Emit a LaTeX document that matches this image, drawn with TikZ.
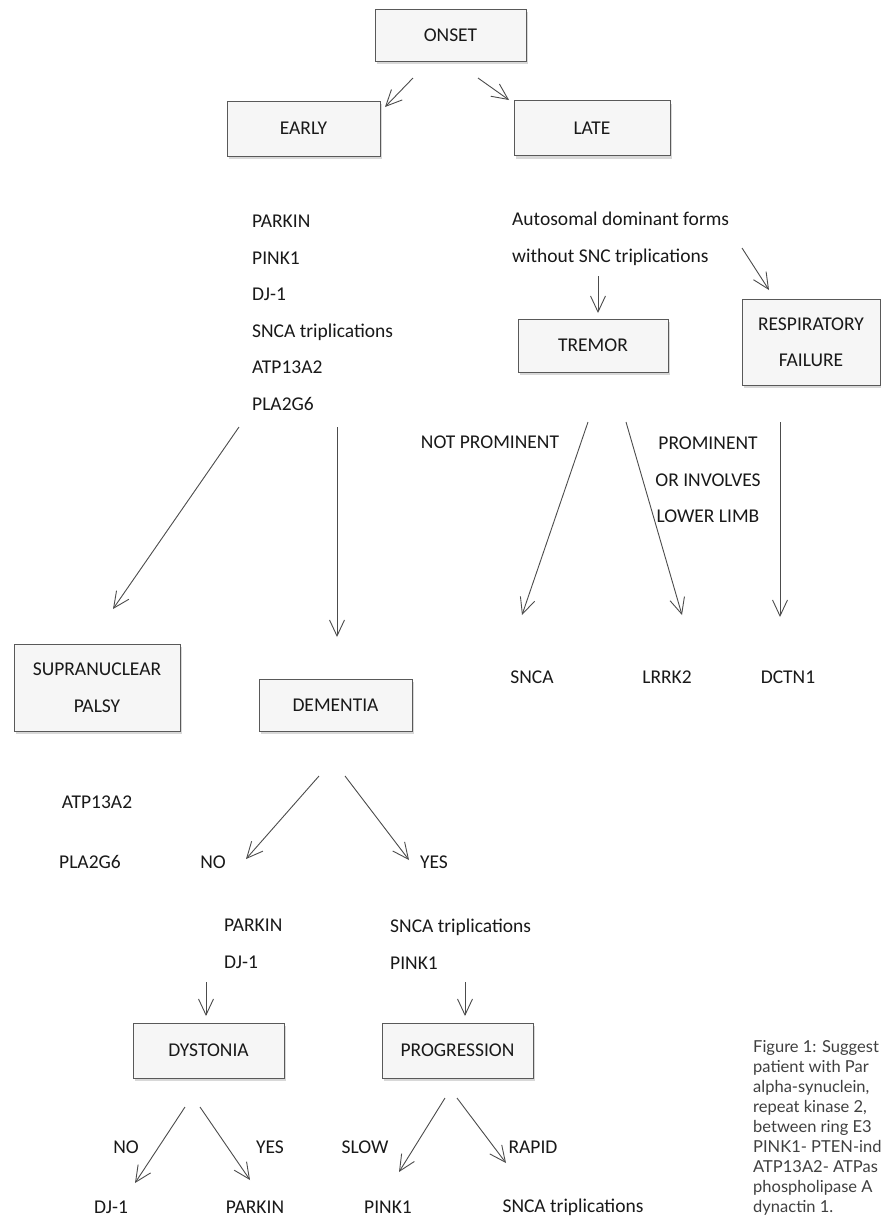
\documentclass[tikz,border=0pt]{standalone}
\usepackage{fontspec}
\setmainfont{Carlito}
\newfontfamily\capfont{Lato}
\usetikzlibrary{arrows.meta,shadows}

\begin{document}
\begin{tikzpicture}[x=1pt,y=-1pt,
    every node/.style={font=\fontsize{19.5}{36.5}\selectfont,text=black!90,inner sep=0pt},
    box/.style={draw=black!65,line width=0.9pt,fill=gray!7,align=center,
      drop shadow={shadow xshift=2pt,shadow yshift=-3pt,opacity=0.3,fill=black!50}},
    gene/.style={align=left,anchor=west},
    arr/.style={draw=black!70,line width=0.9pt,-{Straight Barb[length=16pt,width=15pt,line width=0.9pt]}}]
    \clip (0,0) rectangle (881,1219);
    \fill[white] (0,0) rectangle (881,1219);

    \node[box,minimum width=151pt,minimum height=52pt] (onset) at (450.5,35) {ONSET};
    \node[box,minimum width=153pt,minimum height=55pt] (early) at (303.5,128.5) {EARLY};
    \node[box,minimum width=156pt,minimum height=55pt] (late) at (592,128) {LATE};
    \node[box,minimum width=150pt,minimum height=53pt] (tremor) at (593,345.5) {TREMOR};
    \node[box,minimum width=138pt,minimum height=86pt] (resp) at (811,342) {RESPIRATORY\\FAILURE};
    \node[box,minimum width=166pt,minimum height=87pt] (supra) at (97,687.5) {SUPRANUCLEAR\\PALSY};
    \node[box,minimum width=153pt,minimum height=52pt] (dementia) at (335.5,705) {DEMENTIA};
    \node[box,minimum width=151pt,minimum height=55pt] (dystonia) at (208.5,1050.5) {DYSTONIA};
    \node[box,minimum width=151pt,minimum height=55pt] (progression) at (457.5,1050.5) {PROGRESSION};

    \node[gene] (earlygenes) at (252,313) {PARKIN\\PINK1\\DJ-1\\SNCA triplications\\ATP13A2\\PLA2G6};
    \node[gene] (autodom) at (512,239) {Autosomal dominant forms\\without SNC triplications};
    \node (notprom) at (490,442) {NOT PROMINENT};
    \node[align=center] (prom) at (708,480) {PROMINENT\\OR INVOLVES\\LOWER LIMB};
    \node (snca) at (532,677) {SNCA};
    \node (lrrk) at (667,677) {LRRK2};
    \node (dctn) at (788,677) {DCTN1};
    \node (atp) at (97,802) {ATP13A2};
    \node (pla) at (90,862) {PLA2G6};
    \node (demno) at (213,862) {NO};
    \node (demyes) at (434,862) {YES};
    \node[gene] (nogenes) at (224,944) {PARKIN\\DJ-1};
    \node[gene] (yesgenes) at (390,944) {SNCA triplications\\PINK1};
    \node (dysno) at (126,1147) {NO};
    \node (dysyes) at (270,1147) {YES};
    \node (slow) at (365,1147) {SLOW};
    \node (rapid) at (533,1147) {RAPID};
    \node (dj) at (111,1207) {DJ-1};
    \node (parkin) at (255,1207) {PARKIN};
    \node (pink) at (388,1207) {PINK1};
    \node (sncatrip) at (573,1207) {SNCA triplications};

    \node[anchor=north west,align=left,font=\capfont\fontsize{16.5}{20}\selectfont,text=black!75] (caption) at (753,1040)
      {Figure 1: Suggest\\patient with Par\\alpha-synuclein,\\repeat kinase 2,\\between ring E3\\PINK1- PTEN-ind\\ATP13A2- ATPas\\phospholipase A\\dynactin 1.};

    \coordinate (o1) at (413,78);  \coordinate (e1) at (385,107);
    \coordinate (o2) at (478,78);  \coordinate (l1) at (509,100);
    \coordinate (a1) at (598,276); \coordinate (t1) at (598,313);
    \coordinate (a2) at (742,248); \coordinate (r1) at (769,290);
    \coordinate (g1) at (239,427); \coordinate (s1) at (113,609);
    \coordinate (g2) at (337,427); \coordinate (d1) at (337,637);
    \coordinate (t2) at (588,422); \coordinate (n1) at (522,615);
    \coordinate (t3) at (626,422); \coordinate (k1) at (682,615);
    \coordinate (r2) at (780,422); \coordinate (c1) at (780,617);
    \coordinate (d2) at (319,776); \coordinate (d3) at (246,859);
    \coordinate (d4) at (345,776); \coordinate (d5) at (409,860);
    \coordinate (p1) at (206,982); \coordinate (y1) at (206,1016);
    \coordinate (p2) at (465,982); \coordinate (y2) at (465,1016);
    \coordinate (y3) at (185,1107); \coordinate (j1) at (135,1183);
    \coordinate (y4) at (200,1107); \coordinate (j2) at (250,1180);
    \coordinate (y5) at (445,1098); \coordinate (j3) at (399,1172);
    \coordinate (y6) at (457,1098); \coordinate (j4) at (506,1163);

    \draw[arr] (o1) -- (e1);
    \draw[arr] (o2) -- (l1);
    \draw[arr] (a1) -- (t1);
    \draw[arr] (a2) -- (r1);
    \draw[arr] (g1) -- (s1);
    \draw[arr] (g2) -- (d1);
    \draw[arr] (t2) -- (n1);
    \draw[arr] (t3) -- (k1);
    \draw[arr] (r2) -- (c1);
    \draw[arr] (d2) -- (d3);
    \draw[arr] (d4) -- (d5);
    \draw[arr] (p1) -- (y1);
    \draw[arr] (p2) -- (y2);
    \draw[arr] (y3) -- (j1);
    \draw[arr] (y4) -- (j2);
    \draw[arr] (y5) -- (j3);
    \draw[arr] (y6) -- (j4);
\end{tikzpicture}
\end{document}
